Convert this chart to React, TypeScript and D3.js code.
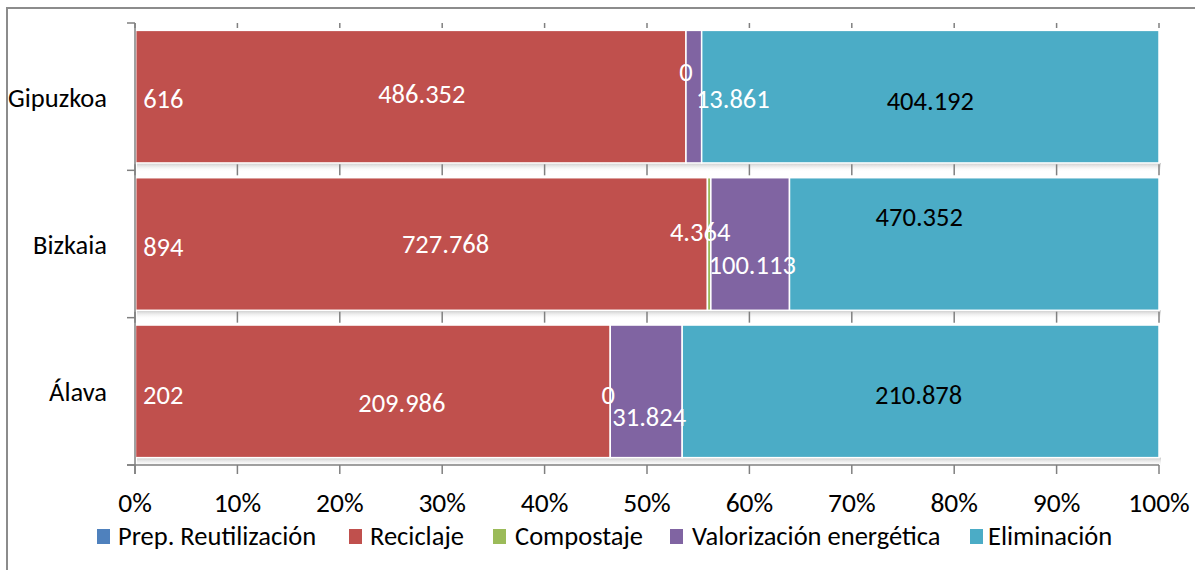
import React from "react";
import * as d3 from "d3";

const categories = ["Gipuzkoa", "Bizkaia", "Álava"];
const seriesNames = ["Prep. Reutilización", "Reciclaje", "Compostaje", "Valorización energética", "Eliminación"];
const prepReutilizacion = [616, 894, 202];
const reciclaje = [486352, 727768, 209986];
const compostaje = [0, 4364, 0];
const valorizacion = [13861, 100113, 31824];
const eliminacion = [404192, 470352, 210878];
const tickValues = [0, 0.1, 0.2, 0.3, 0.4, 0.5, 0.6, 0.7, 0.8, 0.9, 1];

const colors = ["#4F81BD", "#C0504D", "#9BBB59", "#8064A2", "#4BACC6"];
const labelColors = ["#fff", "#fff", "#fff", "#fff", "#000"];
// manual label nudges (dx, dy) per category, per series, as in the original
const labelNudge: [number, number][][] = [
  [[28, 2], [11, -3], [0, -25], [39, 2], [0, 4]],
  [[28, 3], [24, 0], [-9, -12], [2, 21], [-55, -27]],
  [[28, 4], [29, 12], [-2, 4], [3, 26], [-2, 4]],
];

const W = 1195, H = 570;
const FONT = "Carlito, Calibri, Lato, sans-serif";
const FS = 26.5;
const fmt = (v: number) => d3.format(",")(v).replace(/,/g, ".");

export default function App() {
  const seriesValues = [prepReutilizacion, reciclaje, compostaje, valorizacion, eliminacion];
  const rows = categories.map((c, i) => {
    const r: any = { cat: c };
    seriesNames.forEach((s, j) => (r[s] = seriesValues[j][i]));
    return r;
  });
  const stacked = d3.stack<any>().keys(seriesNames).offset(d3.stackOffsetExpand)(rows);

  const x = d3.scaleLinear().domain([0, 1]).range([135, 1159]);
  const y = d3.scaleBand<string>().domain(categories).range([23, 465]).paddingInner(0.1).paddingOuter(0.05);
  const step = y.step();
  const boundaries = [0, 1, 2, 3].map((i) => 23 + i * step);

  const legendItems = [
    { sq: 97, tx: 118 },
    { sq: 349, tx: 370 },
    { sq: 493, tx: 515 },
    { sq: 670, tx: 692 },
    { sq: 970, tx: 988 },
  ];

  return (
    <svg width={W} height={H} style={{ position: "absolute", left: 0, top: 0, background: "#fff" }} fontFamily={FONT}>
      <defs>
        <linearGradient id="shadow" x1="0" y1="0" x2="0" y2="1">
          <stop offset="0" stopColor="#c8c8c8" />
          <stop offset="1" stopColor="#ffffff" stopOpacity="0" />
        </linearGradient>
      </defs>
      <rect x={0} y={0} width={W} height={H} fill="#fff" />
      <rect x={7} y={8} width={1300} height={700} fill="none" stroke="#8c8c8c" strokeWidth={2} />

      {/* bar shadows */}
      {categories.map((c) => (
        <rect key={"sh" + c} x={x(0) + 2} y={(y(c) as number) + y.bandwidth()} width={x(1) - x(0)} height={9} fill="url(#shadow)" />
      ))}

      {/* bars */}
      {stacked.map((s, j) =>
        s.map((d, i) => {
          const w = x(d[1]) - x(d[0]);
          if (w <= 0) return null;
          return (
            <rect key={j + "-" + i} x={x(d[0])} y={y(categories[i])} width={w} height={y.bandwidth()}
              fill={colors[j]} stroke="#fff" strokeWidth={1.5} />
          );
        })
      )}

      {/* small ticks at band boundaries */}
      {boundaries.slice(0, 3).map((b, k) =>
        tickValues.map((t) => (
          <line key={"bt" + k + "-" + t} x1={x(t)} x2={x(t)} y1={k === 0 ? b : b - 6} y2={b + 5}
            stroke="#808080" strokeWidth={1.5} />
        ))
      )}

      {/* axes */}
      <line x1={x(0)} x2={x(0)} y1={23} y2={474} stroke="#808080" strokeWidth={1.5} />
      <line x1={127} x2={x(1)} y1={465} y2={465} stroke="#808080" strokeWidth={1.5} />
      {boundaries.map((b, k) => (
        <line key={"yt" + k} x1={127} x2={x(0)} y1={b} y2={b} stroke="#808080" strokeWidth={1.5} />
      ))}
      {tickValues.map((t) => (
        <line key={"xt" + t} x1={x(t)} x2={x(t)} y1={465} y2={474} stroke="#808080" strokeWidth={1.5} />
      ))}
      {tickValues.map((t) => (
        <text key={"xl" + t} x={x(t)} y={512} textAnchor="middle" fontSize={27.5} fill="#000">
          {d3.format(".0%")(t)}
        </text>
      ))}
      {categories.map((c) => (
        <text key={"cl" + c} x={107} y={(y(c) as number) + y.bandwidth() / 2 + 10} textAnchor="end" fontSize={FS} fill="#000">
          {c}
        </text>
      ))}

      {/* data labels */}
      {stacked.map((s, j) =>
        s.map((d, i) => {
          const cx = x((d[0] + d[1]) / 2) + labelNudge[i][j][0];
          const cy = (y(categories[i]) as number) + y.bandwidth() / 2 + labelNudge[i][j][1];
          return (
            <text key={"dl" + j + "-" + i} x={cx} y={cy + 9} textAnchor="middle" fontSize={FS} fill={labelColors[j]}>
              {fmt(seriesValues[j][i])}
            </text>
          );
        })
      )}

      {/* legend */}
      {seriesNames.map((s, j) => (
        <g key={"lg" + s}>
          <rect x={legendItems[j].sq} y={529} width={13} height={15} fill={colors[j]} />
          <text x={legendItems[j].tx} y={545} fontSize={FS} fill="#000">{s}</text>
        </g>
      ))}
    </svg>
  );
}
